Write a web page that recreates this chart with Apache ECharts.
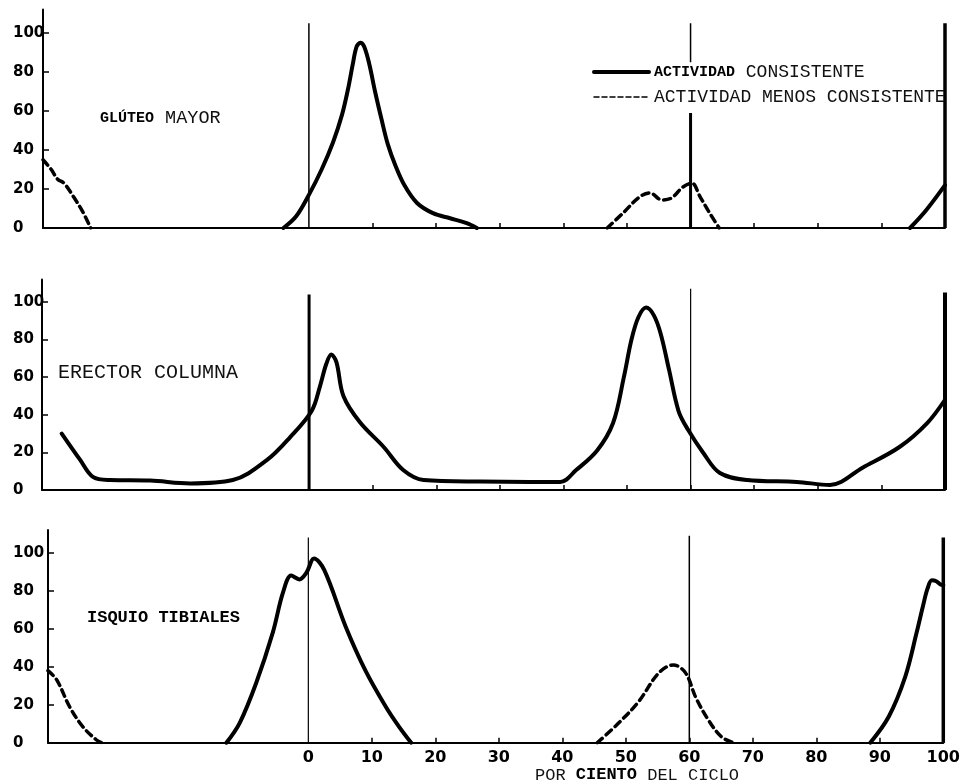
<!DOCTYPE html>
<html><head><meta charset="utf-8">
<script src="https://cdn.jsdelivr.net/npm/echarts@6/dist/echarts.min.js"></script>
<style>html,body{margin:0;padding:0;background:#fff}#c{width:963px;height:784px}</style>
</head><body><div id="c"></div>
<script>
// ---------- data ----------
const xTicks = [0,10,20,30,40,50,60,70,80,90,100];
const yTicks = [0,20,40,60,80,100];
const panelNames = ['GLÚTEO MAYOR','ERECTOR COLUMNA','ISQUIO TIBIALES'];
const legendNames = ['ACTIVIDAD CONSISTENTE','ACTIVIDAD MENOS CONSISTENTE'];
const xAxisTitle = 'POR CIENTO DEL CICLO';

// Glúteo mayor
const glutSolidMain = [[-4,0],[-2,6],[0,17],[2,30],[3.8,44],[5.2,58],[6.2,72],[6.9,84],[7.5,93],[8.1,95],[8.7,93],[9.5,84],[10.4,70],[11.4,56],[12.4,43],[13.6,32],[15,22],[17,12.8],[19.5,7.6],[22.2,5],[24.8,2.5],[26.4,0]];
const glutSolidEnd = [[94.5,0],[97,9],[100,22]];
const glutDashLeft = [[-41.8,35],[-40.5,30],[-39.5,25],[-38.5,23],[-37,16],[-35.5,8],[-34.3,0]];
const glutDashMid = [[46.9,0],[49.4,7.7],[52,16],[53.6,18],[55.5,14.4],[57,15.4],[58.8,21],[60.2,23],[61.5,16],[63,7.7],[64.5,0]];
// Erector columna
const erectorSolid = [[-38.9,30],[-36,16],[-34,7],[-31.3,5.3],[-25,5],[-18.7,3.5],[-12,5.3],[-6.6,16],[-3,28],[0.4,42],[1.7,55],[2.7,67],[3.5,72],[4.3,68],[5.4,50],[8,36],[11.7,23],[14.8,10.6],[18,5.3],[26.9,4.5],[39.5,4.3],[42,10.6],[45.3,21],[47.8,35.6],[49.5,60],[50.7,80],[51.8,92],[53,97],[54.2,93],[55.3,83],[56.6,64],[58.1,42],[59.6,32],[62,19.7],[64.6,9],[68.9,5.3],[76.7,4.3],[81.9,2.7],[87.1,12],[92.9,23],[97.2,35.6],[100,48]];
// Isquio tibiales
const isqSolidMain = [[-12.9,0],[-10.8,10.5],[-8.2,31.6],[-5.6,58],[-4,79],[-2.7,88],[-1.4,86],[-0.3,89.5],[0.9,97],[2.5,91],[5.9,61],[9,38],[12.2,19],[14.3,8.4],[16.2,0]];
const isqSolidEnd = [[88.5,0],[91.4,13.7],[94,34.7],[95.8,58],[96.8,72],[97.5,81],[98.2,85.5],[98.9,85],[99.5,83.5],[100,83]];
const isqDashLeft = [[-41,38],[-39.6,33],[-37.6,19],[-35.5,8.4],[-33.4,1.6],[-32.5,0]];
const isqDashMid = [[45.5,0],[48.9,10.5],[52,21.6],[55.2,36.8],[57.5,41],[59.4,36.8],[61,24],[63,12],[65.1,3],[67,0]];

// vertical reference lines per panel: [x, from, to]
const glutRefs = [[0,0,105],[60,0,59],[60,85,105],[100,0,105]];
const erectorRefs = [[0,0,104],[60,0,107],[100,0,105]];
const isqRefs = [[0,0,108],[60,0,109],[100,0,108]];

// ---------- layout / style ----------
const grids = [
  {left:43, top:9.6, width:902, height:218.4, xmin:-41.8},
  {left:42, top:279.4, width:903, height:210.6, xmin:-42},
  {left:48, top:530, width:897, height:212.8, xmin:-41}
];
const refWidths = [[1.5,3,1.5,3.5],[3,1.2,4],[1.2,1.5,3.5]];
const MONO = "'Liberation Mono', 'DejaVu Sans Mono', monospace";

const chart = echarts.init(document.getElementById('c'));

function curve(name, data, g, dashed){
  return {
    type:'line', name, xAxisIndex:g, yAxisIndex:g, data, smooth:0.35,
    symbol:'none', silent:true, z:3, itemStyle:{color:'#000'},
    lineStyle: dashed ? {color:'#000', width:3.5, type:[7,5], cap:'round'} : {color:'#000', width:4, cap:'round', join:'round'}
  };
}
function refLine(r, g, w){
  return {
    type:'line', xAxisIndex:g, yAxisIndex:g, data:[[r[0],r[1]],[r[0],r[2]]],
    symbol:'none', silent:true, z:2, lineStyle:{color:'#000', width:w}
  };
}

const series = [
  curve(legendNames[0], glutSolidMain, 0, false),
  curve(legendNames[0], glutSolidEnd, 0, false),
  curve(legendNames[1], glutDashLeft, 0, true),
  curve(legendNames[1], glutDashMid, 0, true),
  curve(legendNames[0], erectorSolid, 1, false),
  curve(legendNames[0], isqSolidMain, 2, false),
  curve(legendNames[0], isqSolidEnd, 2, false),
  curve(legendNames[1], isqDashLeft, 2, true),
  curve(legendNames[1], isqDashMid, 2, true)
];
[glutRefs, erectorRefs, isqRefs].forEach((refs, g) => refs.forEach((r, i) => series.push(refLine(r, g, refWidths[g][i]))));

const xAxes = grids.map((gr, i) => ({
  type:'value', gridIndex:i, min:gr.xmin, max:100,
  axisLine:{show:true, onZero:false, lineStyle:{color:'#000', width:2}},
  axisTick:{show:true, inside:true, length:5, customValues:xTicks.slice(1), lineStyle:{color:'#000', width:1.5}},
  axisLabel:{show:i===2, customValues:xTicks, margin:7, color:'#000', fontFamily:'DejaVu Sans', fontWeight:'bold', fontSize:16},
  splitLine:{show:false}
}));
const yAxes = grids.map((gr, i) => ({
  type:'value', gridIndex:i, min:0, max:112,
  axisLine:{show:true, onZero:false, lineStyle:{color:'#000', width:2}},
  axisTick:{show:true, inside:true, length:6, customValues:yTicks, lineStyle:{color:'#000', width:1.5}},
  axisLabel:{customValues:yTicks, align:'left', margin:gr.left-13, color:'#000', fontFamily:'DejaVu Sans', fontWeight:'bold', fontSize:15},
  splitLine:{show:false}
}));

function splitFirst(s){ const k = s.indexOf(' '); return [s.slice(0,k), s.slice(k+1)]; }
const [g1a, g1b] = splitFirst(panelNames[0]);
const [l1a, l1b] = splitFirst(legendNames[0]);
const tw = xAxisTitle.split(' ');
const hidden = {color:'rgba(0,0,0,0)', borderColor:'rgba(0,0,0,0)', borderWidth:0, opacity:0};

const option = {
  backgroundColor:'#fff',
  animation:false,
  grid: grids.map(g => ({left:g.left, top:g.top, width:g.width, height:g.height})),
  xAxis: xAxes,
  yAxis: yAxes,
  legend:{
    orient:'vertical', left:587, top:58, itemWidth:55, itemHeight:14, itemGap:7,
    data:[
      {name:legendNames[0], itemStyle:hidden, lineStyle:{width:4, color:'#000'}},
      {name:legendNames[1], itemStyle:hidden, lineStyle:{width:1.5, color:'#000', type:[5,3]}}
    ],
    formatter: n => n === legendNames[0] ? '{b|' + l1a + '} ' + l1b : n,
    textStyle:{color:'#111', fontFamily:MONO, fontSize:18,
      rich:{b:{fontFamily:MONO, fontWeight:'bold', fontSize:15, color:'#000'}}},
    selectedMode:false
  },
  graphic:[
    {type:'text', x:100, y:118, style:{text:'{b|' + g1a + '}{r| ' + g1b + '}', verticalAlign:'middle',
      rich:{b:{fontFamily:MONO, fontWeight:'bold', fontSize:15, fill:'#000'}, r:{fontFamily:MONO, fontSize:18.5, fill:'#111'}}}},
    {type:'text', x:58, y:373, style:{text:panelNames[1], verticalAlign:'middle', fontFamily:MONO, fontSize:20, fill:'#111'}},
    {type:'text', x:87, y:618, style:{text:panelNames[2], verticalAlign:'middle', fontFamily:MONO, fontWeight:'bold', fontSize:17, fill:'#000'}},
    {type:'text', x:535, y:775, style:{text:'{r|' + tw[0] + ' }{b|' + tw[1] + '}{r| ' + tw.slice(2).join(' ') + '}', verticalAlign:'middle',
      rich:{b:{fontFamily:MONO, fontWeight:'bold', fontSize:17, fill:'#000'}, r:{fontFamily:MONO, fontSize:17, fill:'#111'}}}}
  ],
  series
};
chart.setOption(option);
</script></body></html>
